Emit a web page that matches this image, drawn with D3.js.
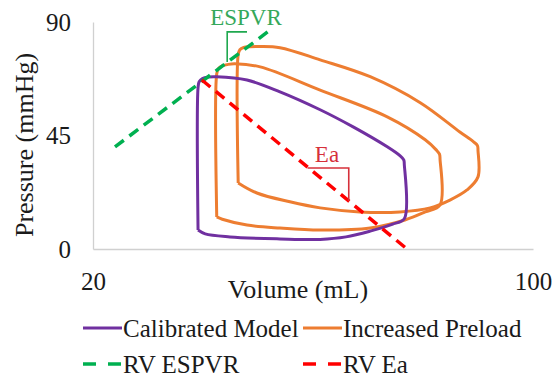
<!DOCTYPE html>
<html>
<head>
<meta charset="utf-8">
<script src="https://cdn.jsdelivr.net/npm/d3@7"></script>
</head>
<body style="margin:0; background:#fff">
<div id="chart"></div>
<script>
// ── RV pressure-volume loops ──

const xTicks = [20, 100];
const yTicks = [0, 45, 90];

// Calibrated model loop (mL, mmHg)
const calVolume   = [39.1, 39.1, 39.3, 39.9, 41.0, 42.5, 48.0, 54.0, 61.3, 67.3, 73.5, 75.8, 76.5, 76.6, 76.6, 74.5, 70.4, 66.0, 61.3, 54.0, 44.9, 40.4, 39.1];
const calPressure = [7.5, 64.0, 66.3, 67.6, 68.2, 68.3, 67.0, 62.3, 55.2, 48.4, 40.5, 37.0, 35.3, 33.5, 12.0, 9.9, 7.1, 4.8, 3.8, 4.0, 4.8, 6.0, 7.5];

// Increased preload loops
const preVolumeA   = [42.5, 42.5, 42.8, 43.5, 44.6, 45.8, 50.4, 61.3, 73.5, 80.4, 82.4, 83.0, 83.1, 83.1, 80.4, 76.7, 70.4, 61.3, 54.0, 48.0, 43.5, 42.5];
const prePressureA = [12.7, 69.5, 71.5, 72.6, 73.2, 73.4, 72.2, 63.0, 52.4, 43.3, 39.3, 37.6, 35.5, 17.5, 14.7, 11.5, 8.3, 7.5, 8.3, 9.5, 11.8, 12.7];
const preVolumeB   = [46.4, 46.4, 46.7, 47.4, 48.5, 50.4, 54.0, 61.3, 70.4, 79.5, 86.7, 89.2, 89.9, 90.0, 90.0, 88.0, 84.9, 81.3, 75.8, 68.5, 61.3, 55.8, 49.8, 46.4];
const prePressureB = [26.2, 77.0, 79.0, 79.9, 80.2, 80.3, 79.8, 75.0, 68.3, 58.0, 46.4, 42.5, 41.0, 39.0, 28.6, 23.4, 19.4, 16.3, 14.7, 14.7, 16.3, 18.7, 22.2, 26.2];

// RV ESPVR and Ea lines
const espvrVolume = [24.0, 52.5];
const espvrPressure = [40.5, 87.3];
const eaVolume = [39.8, 77.1];
const eaPressure = [67.0, 0];

// Slope markers
const espvrMarkVolume = [44.4, 44.4, 48.0];
const espvrMarkPressure = [74.1, 86.1, 86.1];
const eaMarkVolume = [59.0, 66.5, 66.5];
const eaMarkPressure = [32.1, 32.1, 19.0];

const COLORS = {
    calibrated: '#7030a0',
    preload: '#ed7d31',
    espvr: '#00b050',
    ea: '#ff0000',
    axis: '#d0d0d0',
    text: '#1a1a1a',
};

const FONT = '"Liberation Serif", "Times New Roman", serif';
const width = 553, height = 378;

const svg = d3.select('#chart')
    .append('svg')
    .attr('width', width)
    .attr('height', height)
    .style('display', 'block')
    .style('font-family', FONT);

const x = d3.scaleLinear().domain([20, 100]).range([93, 533]);
const y = d3.scaleLinear().domain([0, 90]).range([249, 22]);

const zip = (vs, ps) => vs.map((v, i) => [v, ps[i]]);

// Axes
const yAxis = svg.append('g')
    .attr('transform', `translate(${x(20)},0)`)
    .call(d3.axisLeft(y).tickValues(yTicks).tickSize(0).tickPadding(22));
yAxis.attr('font-family', null);
yAxis.select('.domain').attr('stroke', COLORS.axis).attr('stroke-width', 1.3);
yAxis.selectAll('text')
    .attr('font-size', 25)
    .attr('fill', COLORS.text)
    .style('font-family', FONT);

const xAxis = svg.append('g')
    .attr('transform', `translate(0,${y(0)})`)
    .call(d3.axisBottom(x).tickValues(xTicks).tickSize(0));
xAxis.attr('font-family', null);
xAxis.select('.domain').attr('stroke', COLORS.axis).attr('stroke-width', 1.3);
xAxis.selectAll('text')
    .attr('y', 41)
    .attr('dy', 0)
    .attr('font-size', 25)
    .attr('fill', COLORS.text)
    .style('font-family', FONT);

// Axis titles
svg.append('text')
    .attr('x', 298)
    .attr('y', 298)
    .attr('text-anchor', 'middle')
    .attr('font-size', 26)
    .attr('fill', COLORS.text)
    .style('font-family', FONT)
    .text('Volume (mL)');

svg.append('text')
    .attr('transform', 'translate(33,145) rotate(-90)')
    .attr('text-anchor', 'middle')
    .attr('font-size', 26)
    .attr('fill', COLORS.text)
    .style('font-family', FONT)
    .text('Pressure (mmHg)');

const loopLine = d3.line()
    .x(d => x(d[0]))
    .y(d => y(d[1]))
    .curve(d3.curveCatmullRom.alpha(0.5));

const straight = d3.line()
    .x(d => x(d[0]))
    .y(d => y(d[1]));

const plot = svg.append('g').attr('fill', 'none');

// Loops
plot.append('path')
    .attr('d', loopLine(zip(preVolumeB, prePressureB)))
    .attr('stroke', COLORS.preload)
    .attr('stroke-width', 3);

plot.append('path')
    .attr('d', loopLine(zip(preVolumeA, prePressureA)))
    .attr('stroke', COLORS.preload)
    .attr('stroke-width', 3);

plot.append('path')
    .attr('d', loopLine(zip(calVolume, calPressure)))
    .attr('stroke', COLORS.calibrated)
    .attr('stroke-width', 3);

// Dashed lines
plot.append('path')
    .attr('d', straight(zip(espvrVolume, espvrPressure)))
    .attr('stroke', COLORS.espvr)
    .attr('stroke-width', 3.5)
    .attr('stroke-dasharray', '11,7');

plot.append('path')
    .attr('d', straight(zip(eaVolume, eaPressure)))
    .attr('stroke', COLORS.ea)
    .attr('stroke-width', 3.5)
    .attr('stroke-dasharray', '11,7');

// Slope markers + labels
plot.append('path')
    .attr('d', straight(zip(espvrMarkVolume, espvrMarkPressure)))
    .attr('stroke', '#1fa84f')
    .attr('stroke-width', 1.6);

plot.append('path')
    .attr('d', straight(zip(eaMarkVolume, eaMarkPressure)))
    .attr('stroke', '#d6303a')
    .attr('stroke-width', 1.6);

svg.append('text')
    .attr('x', 246)
    .attr('y', 25)
    .attr('text-anchor', 'middle')
    .attr('font-size', 23)
    .attr('fill', '#35a85a')
    .style('font-family', FONT)
    .text('ESPVR');

svg.append('text')
    .attr('x', 327)
    .attr('y', 162)
    .attr('text-anchor', 'middle')
    .attr('font-size', 23)
    .attr('fill', '#d6303a')
    .style('font-family', FONT)
    .text('Ea');

// Legend
const legendItems = [
    { label: 'Calibrated Model', color: COLORS.calibrated, dash: null, x: 83, y: 328 },
    { label: 'Increased Preload', color: COLORS.preload, dash: null, x: 303, y: 328 },
    { label: 'RV ESPVR', color: COLORS.espvr, dash: '13,12', x: 83, y: 364 },
    { label: 'RV Ea', color: COLORS.ea, dash: '13,12', x: 303, y: 364 },
];

const legend = svg.append('g');
const item = legend.selectAll('g')
    .data(legendItems)
    .join('g')
    .attr('transform', d => `translate(${d.x},${d.y})`);

item.append('line')
    .attr('x1', 0)
    .attr('x2', 39)
    .attr('stroke', d => d.color)
    .attr('stroke-width', d => d.dash ? 3.5 : 3)
    .attr('stroke-dasharray', d => d.dash);

item.append('text')
    .attr('x', 40)
    .attr('y', 9)
    .attr('font-size', 25)
    .attr('fill', COLORS.text)
    .style('font-family', FONT)
    .text(d => d.label);
</script>
</body>
</html>
